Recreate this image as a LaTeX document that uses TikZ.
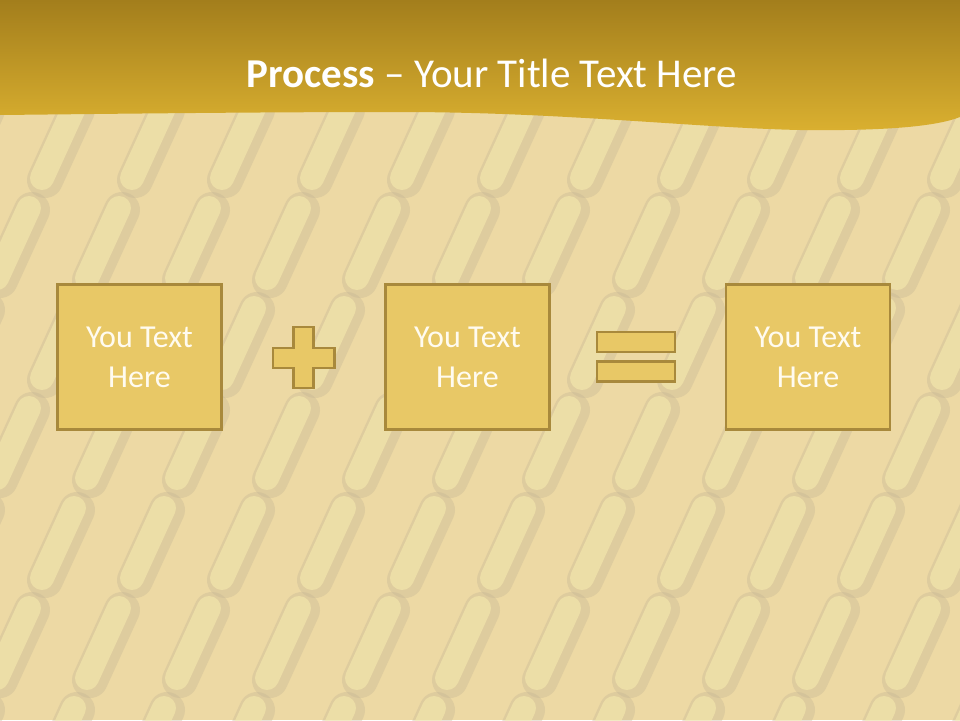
\documentclass[tikz,border=0pt]{standalone}
\usepackage{fontspec}
\setmainfont{Carlito}
\definecolor{bgbase}{HTML}{EDD9A4}
\definecolor{bgshade}{HTML}{C4B494}
\definecolor{bghigh}{HTML}{FBF0B0}
\definecolor{bandtop}{HTML}{A37E1C}
\definecolor{bandbot}{HTML}{DAB030}
\definecolor{boxfill}{HTML}{E8C866}
\definecolor{boxline}{HTML}{A8893C}
\definecolor{boxtext}{HTML}{FFFBF0}
\tikzset{
  stepbox/.style={draw=boxline, line width=2.6pt, fill=boxfill, minimum width=164pt, minimum height=145pt,
    inner sep=0pt, align=center, text=boxtext, font=\fontsize{32}{40}\selectfont},
  opbar/.style={draw=boxline, line width=2.6pt, fill=boxfill, inner sep=0pt},
  capsule/.style={line cap=round, line width=36pt, draw=bgshade, draw opacity=0.35},
  capsulehi/.style={line cap=round, line width=24pt, draw=bghigh, draw opacity=0.5},
}
\begin{document}
\begin{tikzpicture}[x=1pt,y=-1pt]
\useasboundingbox (0,0) rectangle (960,720);
% background
\fill[bgbase] (0,0) rectangle (960,720);
\begin{scope}
\clip (0,0) rectangle (960,720);
\foreach \r in {0,...,7}{
  \foreach \c in {-1,...,11}{
    \pgfmathsetmacro{\xx}{\c*90 + mod(\r,2)*45}
    \pgfmathsetmacro{\yy}{\r*100}
    \draw[capsule] (\xx,\yy+80) -- (\xx+32,\yy+10);
    \draw[capsulehi] (\xx-3,\yy+78) -- (\xx+29,\yy+8);
  }
}
\end{scope}
% title band
\shade[top color=bandtop, bottom color=bandbot]
  (0,0) -- (960,0) -- (960,117)
  .. controls (935,127) and (880,131) .. (800,130)
  .. controls (700,128) and (560,112) .. (400,112)
  .. controls (250,112) and (100,114) .. (0,115) -- cycle;
\node[text=white, font=\fontsize{41}{48}\selectfont, anchor=base] (title) at (492,87)
  {\textbf{Process} – Your Title Text Here};
% boxes
\node[stepbox] (b1) at (139.5,357) {You Text\\Here};
\node[stepbox] (b2) at (467.5,357) {You Text\\Here};
\node[stepbox] (b3) at (808,357) {You Text\\Here};
% plus sign
\draw[opbar] (293.5,327) -- (313.5,327) -- (313.5,348) -- (334.5,348) -- (334.5,368) -- (313.5,368)
  -- (313.5,388) -- (293.5,388) -- (293.5,368) -- (273,368) -- (273,348) -- (293.5,348) -- cycle;
% equals sign
\node[opbar, minimum width=78pt, minimum height=20pt] (eq1) at (636,342) {};
\node[opbar, minimum width=78pt, minimum height=20pt] (eq2) at (636,371.5) {};
\end{tikzpicture}
\end{document}
